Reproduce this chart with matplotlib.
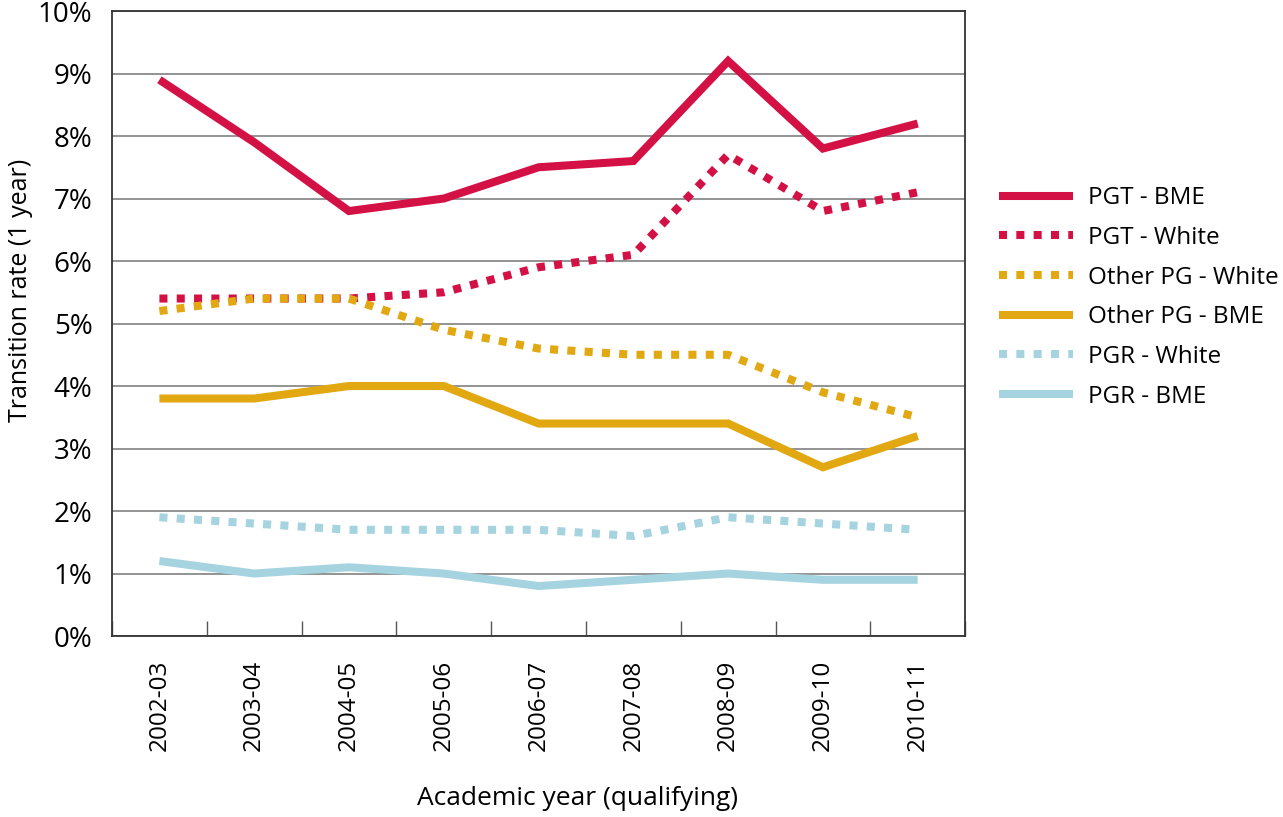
import matplotlib.pyplot as plt
import matplotlib.ticker as mticker
from matplotlib.lines import Line2D

plt.rcParams['font.family'] = ['Open Sans', 'DejaVu Sans']

# ── data: 1-year transition rates (%) ──────────────────────────────────────
years = ["2002-03", "2003-04", "2004-05", "2005-06", "2006-07",
         "2007-08", "2008-09", "2009-10", "2010-11"]

pgt_bme        = [8.9, 7.9, 6.8, 7.0, 7.5, 7.6, 9.2, 7.8, 8.2]
pgt_white      = [5.4, 5.4, 5.4, 5.5, 5.9, 6.1, 7.7, 6.8, 7.1]
other_pg_white = [5.2, 5.4, 5.4, 4.9, 4.6, 4.5, 4.5, 3.9, 3.5]
other_pg_bme   = [3.8, 3.8, 4.0, 4.0, 3.4, 3.4, 3.4, 2.7, 3.2]
pgr_white      = [1.9, 1.8, 1.7, 1.7, 1.7, 1.6, 1.9, 1.8, 1.7]
pgr_bme        = [1.2, 1.0, 1.1, 1.0, 0.8, 0.9, 1.0, 0.9, 0.9]

RED = "#D31145"
GOLD = "#E1A812"
BLUE = "#A6D3E0"

series = [
    ("PGT - BME",         pgt_bme,        RED,  "solid"),
    ("PGT - White",       pgt_white,      RED,  "dot"),
    ("Other PG - White",  other_pg_white, GOLD, "dot"),
    ("Other PG - BME",    other_pg_bme,   GOLD, "solid"),
    ("PGR - White",       pgr_white,      BLUE, "dot"),
    ("PGR - BME",         pgr_bme,        BLUE, "solid"),
]

LW = 5.8
DOT = (0, (1.0, 1.15))


def style_kw(style):
    if style == "dot":
        return dict(linestyle=DOT, dash_capstyle="butt")
    return dict(solid_capstyle="butt")


fig = plt.figure(figsize=(12.83, 8.17), dpi=100)
ax = fig.add_axes([0.0873, 0.2215, 0.6649, 0.765])

x = list(range(len(years)))
for label, vals, color, style in series:
    ax.plot(x, vals, color=color, lw=LW, solid_joinstyle="miter",
            zorder=3, label=label, **style_kw(style))

ax.set_xlim(-0.5, len(years) - 0.5)
ax.set_ylim(0, 10)

# category labels centred, tick marks on category boundaries
ax.set_xticks(x)
ax.set_xticklabels(years, rotation=90, fontsize=17.5)
ax.set_xticks([i - 0.5 for i in range(len(years) + 1)], minor=True)
ax.tick_params(axis="x", which="major", length=0, pad=17)
ax.tick_params(axis="x", which="minor", direction="in", length=11,
               width=1.0, color="#555555")

ax.yaxis.set_major_locator(mticker.MultipleLocator(1))
ax.yaxis.set_major_formatter(mticker.FuncFormatter(lambda v, _: f"{v:.0f}%"))
ax.tick_params(axis="y", length=0, pad=14, labelsize=20)

ax.yaxis.grid(True, color="#8a8a8a", linewidth=1.3, zorder=0)
ax.set_axisbelow(True)
for sp in ax.spines.values():
    sp.set_color("#333333")
    sp.set_linewidth(1.3)

fig.text(0.016, 0.645, "Transition rate (1 year)", rotation=90,
         ha="center", va="center", fontsize=18)
fig.text(0.4505, 0.023, "Academic year (qualifying)",
         ha="center", va="center", fontsize=19)

leg_handles = [Line2D([], [], color=c, lw=LW, **style_kw(s))
               for _, _, c, s in series]
fig.legend(leg_handles, [s[0] for s in series], loc="upper left",
           bbox_to_anchor=(0.771, 0.784), borderaxespad=0, frameon=False,
           fontsize=17.5, handlelength=3.05, handletextpad=0.6,
           labelspacing=0.645)

fig.savefig("out.png", dpi=100, facecolor="white")
